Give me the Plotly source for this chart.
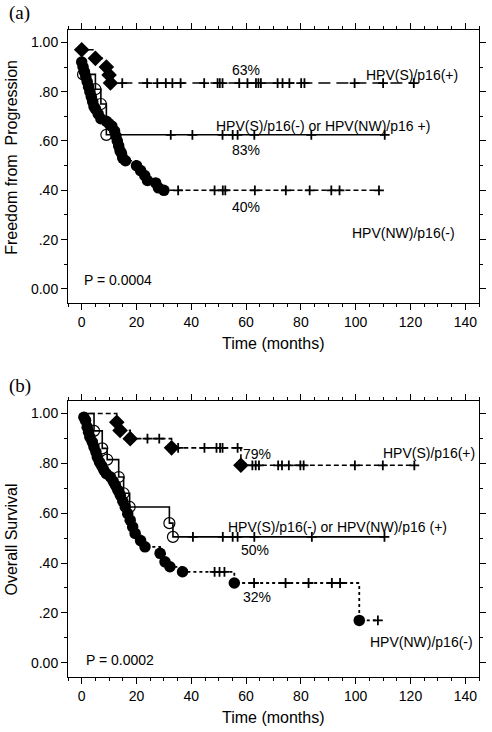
import plotly.graph_objects as go

# ---------------- Panel (a): Freedom from progression ----------------
a_spos_t = [0, 5, 9, 10, 10.5]
a_spos_s = [0.97, 0.935, 0.90, 0.868, 0.835]
a_spos_c = [14.8, 23.9, 27.6, 30.7, 33.1, 36.1, 44.7, 49.6, 50.4, 51.4, 57.5, 60.5,
            63.6, 64.5, 65.4, 71.5, 73.3, 75.8, 80.1, 81.3, 99.6, 110, 121.2]

a_mix_t = [0.5, 5, 7, 9]
a_mix_s = [0.87, 0.81, 0.75, 0.625]
a_mix_c = [32.5, 40.4, 51.4, 55.1, 56.9, 63, 83.8, 110.6]

a_nw_t = [0, 0.5, 1, 1.5, 2, 2.5, 3, 3.5, 4, 4.5, 5, 6, 7, 9, 10, 11, 12, 12.5, 13,
          13.5, 14, 14.5, 15, 16, 20, 21.5, 23, 24, 27, 28, 30]
a_nw_s = [0.92, 0.90, 0.88, 0.86, 0.84, 0.82, 0.80, 0.78, 0.76, 0.74, 0.73, 0.71, 0.69,
          0.68, 0.67, 0.66, 0.64, 0.62, 0.60, 0.58, 0.56, 0.55, 0.53, 0.52, 0.50, 0.48,
          0.46, 0.44, 0.43, 0.41, 0.40]
a_nw_c = [35.2, 48.5, 51.5, 52.4, 63.2, 74.5, 83.2, 91.1, 94.1, 108.5]

# ---------------- Panel (b): Overall survival ----------------
b_spos_t = [12.8, 14, 17.7, 32.8, 58.1]
b_spos_s = [0.965, 0.932, 0.899, 0.862, 0.792]
b_spos_c = [24, 28.3, 35.2, 44.8, 49.2, 50.5, 51.4, 56.9, 62.3, 63.5, 64.7, 71.7, 73.1,
            75.6, 79.8, 81, 99.7, 109.9, 121.4]

b_mix_t = [4.5, 7.5, 9.3, 13.5, 15.3, 17.5, 32, 33.3]
b_mix_s = [0.93, 0.86, 0.815, 0.745, 0.68, 0.625, 0.56, 0.505]
b_mix_c = [40.6, 51.5, 55.1, 56.9, 63, 84, 110.5]

b_nw_t = [0.8, 1.4, 2, 2.5, 3, 3.9, 4.5, 5.2, 5.7, 6.5, 7.3, 8.1, 9, 10.5, 11.5, 12.3,
          13.2, 14.1, 15, 15.9, 16.8, 17.7, 18.6, 19.5, 21.5, 23.1, 28.6, 30.4, 32.2,
          36.8, 55.7, 101.3]
b_nw_s = [0.985, 0.972, 0.945, 0.925, 0.905, 0.885, 0.865, 0.845, 0.825, 0.805, 0.79,
          0.772, 0.758, 0.745, 0.728, 0.712, 0.692, 0.672, 0.648, 0.625, 0.598, 0.572,
          0.545, 0.519, 0.49, 0.465, 0.439, 0.405, 0.385, 0.365, 0.32, 0.17]
b_nw_c = [48.5, 50.3, 52.1, 62.9, 74.4, 82.8, 91.3, 94.3, 108.1]

x_ticks = [0, 20, 40, 60, 80, 100, 120, 140]
y_ticks = [0, 0.2, 0.4, 0.6, 0.8, 1.0]
y_ticktext = ["0.00", ".20", ".40", ".60", ".80", "1.00"]

FONT = "Liberation Sans, Arial, sans-serif"
SERIF = "Liberation Serif, Times New Roman, serif"
fig = go.Figure()


def level_at(t, times, surv, s0):
    s = s0
    for ti, si in zip(times, surv):
        if ti <= t:
            s = si
    return s


def add_group(times, surv, cens, start_at_one, dash, width, marker, msize, xa, ya,
              mline=0):
    if start_at_one:
        lx = [0] + times
        ly = [1.0] + surv
        s0 = 1.0
    else:
        lx = list(times)
        ly = list(surv)
        s0 = surv[0]
    end = max(cens[-1], times[-1])
    lx = lx + [end]
    ly = ly + [surv[-1]]
    fig.add_trace(go.Scatter(x=lx, y=ly, mode="lines", line_shape="hv",
                             line=dict(color="black", width=width, dash=dash),
                             xaxis=xa, yaxis=ya, showlegend=False, hoverinfo="skip"))
    cy = [level_at(c, times, surv, s0) for c in cens]
    fig.add_trace(go.Scatter(x=cens, y=cy, mode="markers",
                             marker=dict(symbol="cross-thin", size=7,
                                         line=dict(color="black", width=1.8)),
                             xaxis=xa, yaxis=ya, showlegend=False, hoverinfo="skip"))
    fig.add_trace(go.Scatter(x=times, y=surv, mode="markers",
                             marker=dict(symbol=marker, size=msize, color="black",
                                         line=dict(color="black", width=mline)),
                             xaxis=xa, yaxis=ya, showlegend=False, hoverinfo="skip"))


# panel a
add_group(a_mix_t, a_mix_s, a_mix_c, False, "solid", 1.6, "circle-open", 11, "x", "y", 1.2)
add_group(a_nw_t, a_nw_s, a_nw_c, False, "5px,3px", 1.6, "circle", 11.5, "x", "y")
add_group(a_spos_t, a_spos_s, a_spos_c, False, "12px,6px", 1.6, "diamond", 12, "x", "y")
# panel b
add_group(b_mix_t, b_mix_s, b_mix_c, True, "solid", 1.6, "circle-open", 11, "x2", "y2", 1.2)
add_group(b_nw_t, b_nw_s, b_nw_c, True, "3px,3px", 1.8, "circle", 11.5, "x2", "y2")
add_group(b_spos_t, b_spos_s, b_spos_c, True, "5px,3px", 1.6, "diamond", 12, "x2", "y2")

xcommon = dict(range=[-5, 145], tickvals=x_ticks, ticks="outside", ticklen=6,
               tickwidth=1, tickcolor="black", showline=True, linecolor="black",
               linewidth=1, mirror="ticks", showgrid=False, zeroline=False,
               automargin=False,
               minor=dict(dtick=5, tick0=0, ticks="outside", ticklen=3,
                          tickcolor="black", showgrid=False),
               tickfont=dict(size=14, color="black", family=FONT))
ycommon = dict(range=[-0.057, 1.05], tickvals=y_ticks, ticktext=y_ticktext,
               ticks="outside", ticklen=6, tickwidth=1, tickcolor="black",
               showline=True, linecolor="black", linewidth=1, mirror="ticks",
               showgrid=False, zeroline=False, automargin=False,
               minor=dict(dtick=0.1, tick0=0, ticks="outside", ticklen=3,
                          tickcolor="black", showgrid=False),
               tickfont=dict(size=14, color="black", family=FONT))

fig.update_layout(
    width=492, height=732,
    margin=dict(l=68, r=13, t=30, b=55),
    paper_bgcolor="white", plot_bgcolor="white",
    font=dict(family=FONT, color="black"),
    xaxis=dict(**xcommon, anchor="y"),
    yaxis=dict(**ycommon, domain=[0.578, 1.0], anchor="x"),
    xaxis2=dict(**xcommon, anchor="y2"),
    yaxis2=dict(**ycommon, domain=[0.0, 0.4266], anchor="x2"),
)


def ann(text, x, y, xa, ya, xanchor="left", size=14, family=FONT, angle=0):
    fig.add_annotation(text=text, x=x, y=y, xref=xa, yref=ya, xanchor=xanchor,
                       yanchor="middle", showarrow=False, textangle=angle,
                       font=dict(size=size, color="black", family=family))


ann("63%", 60, 0.888, "x", "y", "center")
ann("83%", 60, 0.564, "x", "y", "center")
ann("40%", 60, 0.333, "x", "y", "center")
ann("HPV(S)/p16(+)", 103, 0.868, "x", "y")
ann("HPV(S)/p16(-) or HPV(NW)/p16 +)", 48.4, 0.661, "x", "y")
ann("HPV(NW)/p16(-)", 97.8, 0.227, "x", "y")
ann("P = 0.0004", 0, 0.037, "x", "y")

ann("79%", 64, 0.836, "x2", "y2", "center")
ann("HPV(S)/p16(+)", 109.2, 0.84, "x2", "y2")
ann("HPV(S)/p16(-) or HPV(NW)/p16 (+)", 52.7, 0.545, "x2", "y2")
ann("50%", 63.3, 0.452, "x2", "y2", "center")
ann("32%", 63.8, 0.265, "x2", "y2", "center")
ann("HPV(NW)/p16(-)", 104.5, 0.084, "x2", "y2")
ann("P = 0.0002", 0.7, 0.012, "x2", "y2")

# axis titles
ann("Time (months)", 0.5, 0.516, "paper", "paper", "center", 16)
ann("Time (months)", 0.5, -0.062, "paper", "paper", "center", 16)
ann("Freedom from  Progression", -0.1363, 0.804, "paper", "paper", "center", 16,
    angle=-90)
ann("Overall Survival", -0.1363, 0.2125, "paper", "paper", "center", 16, angle=-90)

# panel labels
ann("(a)", -0.148, 1.026, "paper", "paper", "left", 19, SERIF)
ann("(b)", -0.148, 0.45, "paper", "paper", "left", 19, SERIF)

fig.write_html("out.html",
               config={"displayModeBar": False},
               post_script="document.body.style.margin='0';"
                           "document.body.style.overflow='hidden';")
